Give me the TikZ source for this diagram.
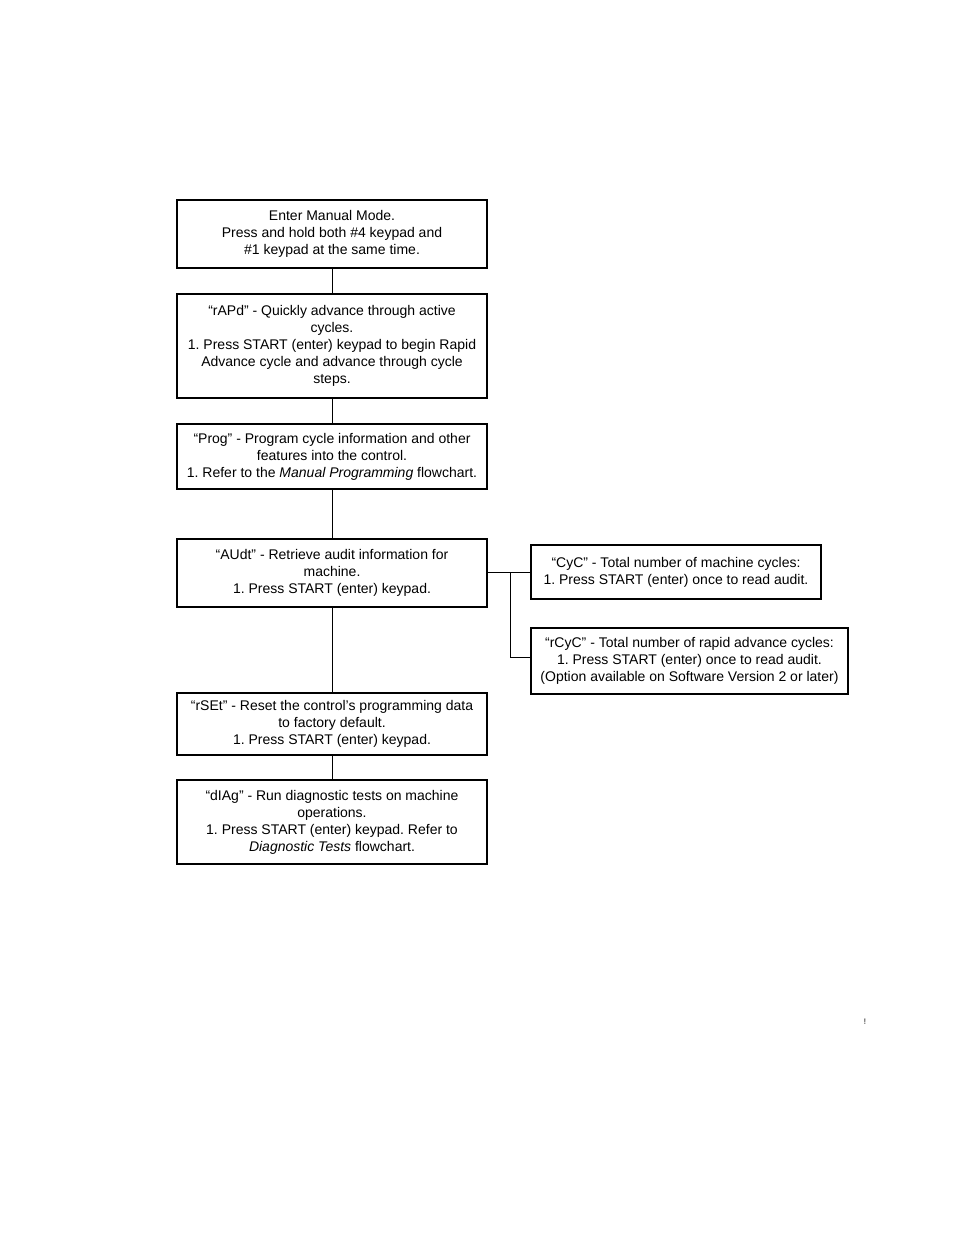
\documentclass[tikz,border=0pt]{standalone}
\usepackage{fontspec}
\setmainfont{Liberation Sans}
\usetikzlibrary{calc}
\frenchspacing

\tikzset{
	stepbox/.style={draw, line width=1.2pt, align=center, inner sep=4pt,
		font=\fontsize{14}{17}\selectfont},
	mainbox/.style={stepbox, minimum width=310pt},
	link/.style={line width=0.9pt}
}

\begin{document}
\begin{tikzpicture}[x=1pt, y=-1pt]
			\useasboundingbox (0, 0) rectangle (954, 1235);
			
			\node[mainbox, minimum height=68pt] (enter) at (332, 234)
			{Enter Manual Mode.\\ Press and hold both \#4 keypad and\\ \#1 keypad at the same time.};
			\node[mainbox, minimum height=104pt] (rapd) at (332, 346)
			{“rAPd” - Quickly advance through active\\ cycles.\\ 1. Press START (enter) keypad to begin Rapid\\ Advance cycle and advance through cycle\\ steps.};
			\node[mainbox, minimum height=65pt] (prog) at (332, 456.5)
			{“Prog” - Program cycle information and other\\ features into the control.\\ 1. Refer to the \textit{Manual Programming} flowchart.};
			\node[mainbox, minimum height=68pt] (audt) at (332, 573)
			{“AUdt” - Retrieve audit information for\\ machine.\\ 1. Press START (enter) keypad.};
			\node[mainbox, minimum height=62pt] (rset) at (332, 724)
			{“rSEt” - Reset the control’s programming data\\ to factory default.\\ 1. Press START (enter) keypad.};
			\node[mainbox, minimum height=84pt] (diag) at (332, 822)
			{“dIAg” - Run diagnostic tests on machine\\ operations.\\ 1. Press START (enter) keypad. Refer to\\ \textit{Diagnostic Tests} flowchart.};
			
			\node[stepbox, minimum width=290pt, minimum height=54pt] (cyc) at (676, 572)
			{“CyC” - Total number of machine cycles:\\ 1. Press START (enter) once to read audit.};
			\node[stepbox, minimum width=317pt, minimum height=66pt] (rcyc) at (689.5, 661)
			{“rCyC” - Total number of rapid advance cycles:\\ 1. Press START (enter) once to read audit.\\ (Option available on Software Version 2 or later)};
			
			\node[font=\fontsize{8}{8}\selectfont, inner sep=0pt] (stray) at (865, 1022) {!};
			
			% main column
			\draw[link] (enter) -- (rapd);
			\draw[link] (rapd) -- (prog);
			\draw[link] (prog) -- (audt);
			\draw[link] (audt) -- (rset);
			\draw[link] (rset) -- (diag);
			
			% audit branch
			\coordinate (split) at (510, 572);
			\draw[link] (audt.east |- split) -- (cyc.west |- split);
			\draw[link] (split) |- ([yshift=4pt]rcyc.west);
			
		\end{tikzpicture}
\end{document}
